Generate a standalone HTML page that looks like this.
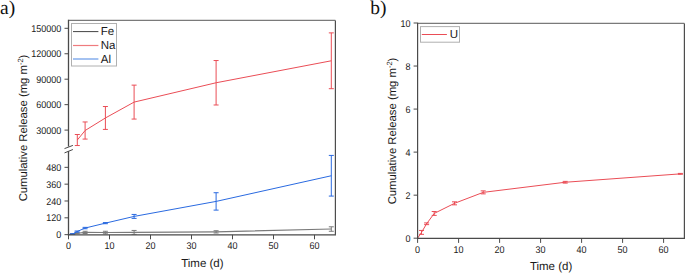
<!DOCTYPE html>
<html><head><meta charset="utf-8"><title>Cumulative Release</title>
<style>
html,body{margin:0;padding:0;background:#fff;}
body{width:685px;height:273px;overflow:hidden;font-family:"Liberation Sans",sans-serif;}
svg{display:block;}
text{text-rendering:geometricPrecision;}
</style></head><body>
<svg width="685" height="273" viewBox="0 0 685 273">
<rect width="685" height="273" fill="#fff"/>
<text x="0" y="13.8" font-family="Liberation Serif" font-size="19.5" fill="#111">a)</text>
<text x="370.3" y="14.3" font-family="Liberation Serif" font-size="19.5" fill="#111">b)</text>
<defs>
<clipPath id="cup"><rect x="68.5" y="20.4" width="266.9" height="127.1"/></clipPath>
<clipPath id="clo"><rect x="68.5" y="149.9" width="266.9" height="84.9"/></clipPath>
</defs>
<g clip-path="url(#clo)"><polyline points="68.50,234.65 72.60,234.09 77.11,233.25 85.10,232.41 105.40,232.55 134.10,232.41 216.10,231.84 331.31,229.04" fill="none" stroke="#7a7a7a" stroke-width="1.1" stroke-linejoin="round"/><path d="M72.60,233.81V234.37M70.10,233.81H75.10M70.10,234.37H75.10" stroke="#7a7a7a" stroke-width="1.0" fill="none"/><path d="M77.11,232.83V233.67M74.61,232.83H79.61M74.61,233.67H79.61" stroke="#7a7a7a" stroke-width="1.0" fill="none"/><path d="M85.10,231.28V233.53M82.60,231.28H87.60M82.60,233.53H87.60" stroke="#7a7a7a" stroke-width="1.0" fill="none"/><path d="M105.40,231.28V233.81M102.90,231.28H107.90M102.90,233.81H107.90" stroke="#7a7a7a" stroke-width="1.0" fill="none"/><path d="M134.10,230.44V234.37M131.60,230.44H136.60M131.60,234.37H136.60" stroke="#7a7a7a" stroke-width="1.0" fill="none"/><path d="M216.10,230.72V232.97M213.60,230.72H218.60M213.60,232.97H218.60" stroke="#7a7a7a" stroke-width="1.0" fill="none"/><path d="M331.31,226.80V231.28M328.81,226.80H333.81M328.81,231.28H333.81" stroke="#7a7a7a" stroke-width="1.0" fill="none"/><polyline points="68.50,234.65 72.60,234.09 77.11,231.56 85.10,228.06 105.40,223.15 134.10,216.42 216.10,201.41 331.31,175.75" fill="none" stroke="#2a6ae0" stroke-width="1.0" stroke-linejoin="round"/><path d="M72.60,233.81V234.37M70.10,233.81H75.10M70.10,234.37H75.10" stroke="#2a6ae0" stroke-width="1.0" fill="none"/><path d="M77.11,231.00V232.13M74.61,231.00H79.61M74.61,232.13H79.61" stroke="#2a6ae0" stroke-width="1.0" fill="none"/><path d="M85.10,227.36V228.76M82.60,227.36H87.60M82.60,228.76H87.60" stroke="#2a6ae0" stroke-width="1.0" fill="none"/><path d="M105.40,222.59V223.71M102.90,222.59H107.90M102.90,223.71H107.90" stroke="#2a6ae0" stroke-width="1.0" fill="none"/><path d="M134.10,214.45V218.38M131.60,214.45H136.60M131.60,218.38H136.60" stroke="#2a6ae0" stroke-width="1.0" fill="none"/><path d="M216.10,192.72V210.11M213.60,192.72H218.60M213.60,210.11H218.60" stroke="#2a6ae0" stroke-width="1.0" fill="none"/><path d="M331.31,155.41V196.08M328.81,155.41H333.81M328.81,196.08H333.81" stroke="#2a6ae0" stroke-width="1.0" fill="none"/></g>
<g clip-path="url(#cup)"><polyline points="77.31,140.03 85.10,130.52 105.40,117.97 134.10,102.10 216.10,82.76 331.31,60.79" fill="none" stroke="#ea4d56" stroke-width="1.0" stroke-linejoin="round"/><path d="M77.31,134.51V145.54M74.81,134.51H79.81M74.81,145.54H79.81" stroke="#ea4d56" stroke-width="1.0" fill="none"/><path d="M85.10,121.96V139.09M82.60,121.96H87.60M82.60,139.09H87.60" stroke="#ea4d56" stroke-width="1.0" fill="none"/><path d="M105.40,106.52V129.42M102.90,106.52H107.90M102.90,129.42H107.90" stroke="#ea4d56" stroke-width="1.0" fill="none"/><path d="M134.10,85.14V119.07M131.60,85.14H136.60M131.60,119.07H136.60" stroke="#ea4d56" stroke-width="1.0" fill="none"/><path d="M216.10,60.54V104.99M213.60,60.54H218.60M213.60,104.99H218.60" stroke="#ea4d56" stroke-width="1.0" fill="none"/><path d="M331.31,32.88V88.70M328.81,32.88H333.81M328.81,88.70H333.81" stroke="#ea4d56" stroke-width="1.0" fill="none"/></g>
<path d="M68.5,20.4H335.4" stroke="#7a7a7a" stroke-width="1.3" fill="none"/>
<path d="M335.4,20.4V234.8" stroke="#4d4d4d" stroke-width="1.2" fill="none"/>
<path d="M68.5,19.799999999999997V146.5M68.5,150.9V235.4" stroke="#4a4a4a" stroke-width="1.3" fill="none"/>
<path d="M67.9,234.8H336.0" stroke="#4a4a4a" stroke-width="1.3" fill="none"/>
<path d="M64.5,148.6L72.9,145.4M64.5,152.9L72.9,149.5" stroke="#4a4a4a" stroke-width="1.0" fill="none"/>
<path d="M64.5,130.10H68.5" stroke="#4a4a4a" stroke-width="1"/>
<text x="61.30" y="133.71" text-anchor="end" font-family="Liberation Sans" font-size="9.8" textLength="25.06" lengthAdjust="spacingAndGlyphs" fill="#1a1a1a">30000</text>
<path d="M64.5,104.65H68.5" stroke="#4a4a4a" stroke-width="1"/>
<text x="61.30" y="108.26" text-anchor="end" font-family="Liberation Sans" font-size="9.8" textLength="25.06" lengthAdjust="spacingAndGlyphs" fill="#1a1a1a">60000</text>
<path d="M64.5,79.20H68.5" stroke="#4a4a4a" stroke-width="1"/>
<text x="61.30" y="82.81" text-anchor="end" font-family="Liberation Sans" font-size="9.8" textLength="25.06" lengthAdjust="spacingAndGlyphs" fill="#1a1a1a">90000</text>
<path d="M64.5,53.75H68.5" stroke="#4a4a4a" stroke-width="1"/>
<text x="61.30" y="57.36" text-anchor="end" font-family="Liberation Sans" font-size="9.8" textLength="30.08" lengthAdjust="spacingAndGlyphs" fill="#1a1a1a">120000</text>
<path d="M64.5,28.30H68.5" stroke="#4a4a4a" stroke-width="1"/>
<text x="61.30" y="31.91" text-anchor="end" font-family="Liberation Sans" font-size="9.8" textLength="30.08" lengthAdjust="spacingAndGlyphs" fill="#1a1a1a">150000</text>
<path d="M64.5,234.65H68.5" stroke="#4a4a4a" stroke-width="1"/>
<text x="61.30" y="238.26" text-anchor="end" font-family="Liberation Sans" font-size="9.8" textLength="5.01" lengthAdjust="spacingAndGlyphs" fill="#1a1a1a">0</text>
<path d="M64.5,217.82H68.5" stroke="#4a4a4a" stroke-width="1"/>
<text x="61.30" y="221.43" text-anchor="end" font-family="Liberation Sans" font-size="9.8" textLength="15.04" lengthAdjust="spacingAndGlyphs" fill="#1a1a1a">120</text>
<path d="M64.5,200.99H68.5" stroke="#4a4a4a" stroke-width="1"/>
<text x="61.30" y="204.60" text-anchor="end" font-family="Liberation Sans" font-size="9.8" textLength="15.04" lengthAdjust="spacingAndGlyphs" fill="#1a1a1a">240</text>
<path d="M64.5,184.16H68.5" stroke="#4a4a4a" stroke-width="1"/>
<text x="61.30" y="187.77" text-anchor="end" font-family="Liberation Sans" font-size="9.8" textLength="15.04" lengthAdjust="spacingAndGlyphs" fill="#1a1a1a">360</text>
<path d="M64.5,167.33H68.5" stroke="#4a4a4a" stroke-width="1"/>
<text x="61.30" y="170.94" text-anchor="end" font-family="Liberation Sans" font-size="9.8" textLength="15.04" lengthAdjust="spacingAndGlyphs" fill="#1a1a1a">480</text>
<path d="M68.50,234.8V239.3" stroke="#4a4a4a" stroke-width="1"/>
<text x="68.50" y="249.41" text-anchor="middle" font-family="Liberation Sans" font-size="9.8" textLength="5.01" lengthAdjust="spacingAndGlyphs" fill="#1a1a1a">0</text>
<path d="M109.50,234.8V239.3" stroke="#4a4a4a" stroke-width="1"/>
<text x="109.50" y="249.41" text-anchor="middle" font-family="Liberation Sans" font-size="9.8" textLength="10.03" lengthAdjust="spacingAndGlyphs" fill="#1a1a1a">10</text>
<path d="M150.50,234.8V239.3" stroke="#4a4a4a" stroke-width="1"/>
<text x="150.50" y="249.41" text-anchor="middle" font-family="Liberation Sans" font-size="9.8" textLength="10.03" lengthAdjust="spacingAndGlyphs" fill="#1a1a1a">20</text>
<path d="M191.50,234.8V239.3" stroke="#4a4a4a" stroke-width="1"/>
<text x="191.50" y="249.41" text-anchor="middle" font-family="Liberation Sans" font-size="9.8" textLength="10.03" lengthAdjust="spacingAndGlyphs" fill="#1a1a1a">30</text>
<path d="M232.50,234.8V239.3" stroke="#4a4a4a" stroke-width="1"/>
<text x="232.50" y="249.41" text-anchor="middle" font-family="Liberation Sans" font-size="9.8" textLength="10.03" lengthAdjust="spacingAndGlyphs" fill="#1a1a1a">40</text>
<path d="M273.50,234.8V239.3" stroke="#4a4a4a" stroke-width="1"/>
<text x="273.50" y="249.41" text-anchor="middle" font-family="Liberation Sans" font-size="9.8" textLength="10.03" lengthAdjust="spacingAndGlyphs" fill="#1a1a1a">50</text>
<path d="M314.50,234.8V239.3" stroke="#4a4a4a" stroke-width="1"/>
<text x="314.50" y="249.41" text-anchor="middle" font-family="Liberation Sans" font-size="9.8" textLength="10.03" lengthAdjust="spacingAndGlyphs" fill="#1a1a1a">60</text>
<text x="202.4" y="266.7" text-anchor="middle" font-family="Liberation Sans" font-size="11.5" fill="#1a1a1a">Time (d)</text>
<text transform="translate(27.2,128.0) rotate(-90)" text-anchor="middle" font-family="Liberation Sans" font-size="11.3" fill="#1a1a1a">Cumulative Release (mg m<tspan font-size="7.5" dy="-4">-2</tspan><tspan dy="4">)</tspan></text>
<rect x="71.5" y="23.5" width="45" height="42.5" fill="#fff" stroke="#b0b0b0" stroke-width="1"/>
<path d="M73,31.6H98.4" stroke="#444" stroke-width="1"/>
<path d="M73,45.5H98.4" stroke="#ef7b7e" stroke-width="1.2"/>
<path d="M73,59H98.4" stroke="#8db3ee" stroke-width="1.6"/>
<text x="100.8" y="35.2" font-family="Liberation Sans" font-size="11.5" fill="#1a1a1a">Fe</text>
<text x="100.8" y="49.1" font-family="Liberation Sans" font-size="11.5" fill="#1a1a1a">Na</text>
<text x="100.8" y="62.6" font-family="Liberation Sans" font-size="11.5" fill="#1a1a1a">Al</text>
<defs><clipPath id="cb"><rect x="417.6" y="23.4" width="266.79999999999995" height="215.0"/></clipPath></defs>
<g clip-path="url(#cb)"><polyline points="417.60,238.20 421.50,232.39 426.62,223.78 434.21,213.45 454.50,203.34 483.20,192.36 565.20,182.25 680.41,173.86" fill="none" stroke="#ea4d56" stroke-width="1.0" stroke-linejoin="round"/><path d="M421.50,230.45V234.33M419.00,230.45H424.00M419.00,234.33H424.00" stroke="#ea4d56" stroke-width="1.0" fill="none"/><path d="M426.62,222.92V224.64M424.12,222.92H429.12M424.12,224.64H429.12" stroke="#ea4d56" stroke-width="1.0" fill="none"/><path d="M434.21,211.52V215.39M431.71,211.52H436.71M431.71,215.39H436.71" stroke="#ea4d56" stroke-width="1.0" fill="none"/><path d="M454.50,201.83V204.84M452.00,201.83H457.00M452.00,204.84H457.00" stroke="#ea4d56" stroke-width="1.0" fill="none"/><path d="M483.20,190.86V193.87M480.70,190.86H485.70M480.70,193.87H485.70" stroke="#ea4d56" stroke-width="1.0" fill="none"/><path d="M565.20,181.39V183.11M562.70,181.39H567.70M562.70,183.11H567.70" stroke="#ea4d56" stroke-width="1.0" fill="none"/><path d="M680.41,173.42V174.29M677.91,173.42H682.91M677.91,174.29H682.91" stroke="#ea4d56" stroke-width="1.0" fill="none"/></g>
<path d="M417.6,23.4H684.4" stroke="#7a7a7a" stroke-width="1.3" fill="none"/>
<path d="M684.4,23.4V238.4" stroke="#4d4d4d" stroke-width="1.2" fill="none"/>
<path d="M417.6,22.799999999999997V239.0" stroke="#4a4a4a" stroke-width="1.2" fill="none"/>
<path d="M417.0,238.4H685.0" stroke="#4a4a4a" stroke-width="1.3" fill="none"/>
<path d="M413.6,238.20H417.6" stroke="#4a4a4a" stroke-width="1"/>
<text x="410.50" y="241.81" text-anchor="end" font-family="Liberation Sans" font-size="9.8" textLength="5.01" lengthAdjust="spacingAndGlyphs" fill="#1a1a1a">0</text>
<path d="M413.6,195.16H417.6" stroke="#4a4a4a" stroke-width="1"/>
<text x="410.50" y="198.77" text-anchor="end" font-family="Liberation Sans" font-size="9.8" textLength="5.01" lengthAdjust="spacingAndGlyphs" fill="#1a1a1a">2</text>
<path d="M413.6,152.12H417.6" stroke="#4a4a4a" stroke-width="1"/>
<text x="410.50" y="155.73" text-anchor="end" font-family="Liberation Sans" font-size="9.8" textLength="5.01" lengthAdjust="spacingAndGlyphs" fill="#1a1a1a">4</text>
<path d="M413.6,109.08H417.6" stroke="#4a4a4a" stroke-width="1"/>
<text x="410.50" y="112.69" text-anchor="end" font-family="Liberation Sans" font-size="9.8" textLength="5.01" lengthAdjust="spacingAndGlyphs" fill="#1a1a1a">6</text>
<path d="M413.6,66.04H417.6" stroke="#4a4a4a" stroke-width="1"/>
<text x="410.50" y="69.65" text-anchor="end" font-family="Liberation Sans" font-size="9.8" textLength="5.01" lengthAdjust="spacingAndGlyphs" fill="#1a1a1a">8</text>
<path d="M413.6,23.00H417.6" stroke="#4a4a4a" stroke-width="1"/>
<text x="410.50" y="26.61" text-anchor="end" font-family="Liberation Sans" font-size="9.8" textLength="10.03" lengthAdjust="spacingAndGlyphs" fill="#1a1a1a">10</text>
<path d="M417.60,238.4V242.9" stroke="#4a4a4a" stroke-width="1"/>
<text x="417.60" y="253.21" text-anchor="middle" font-family="Liberation Sans" font-size="9.8" textLength="5.01" lengthAdjust="spacingAndGlyphs" fill="#1a1a1a">0</text>
<path d="M458.60,238.4V242.9" stroke="#4a4a4a" stroke-width="1"/>
<text x="458.60" y="253.21" text-anchor="middle" font-family="Liberation Sans" font-size="9.8" textLength="10.03" lengthAdjust="spacingAndGlyphs" fill="#1a1a1a">10</text>
<path d="M499.60,238.4V242.9" stroke="#4a4a4a" stroke-width="1"/>
<text x="499.60" y="253.21" text-anchor="middle" font-family="Liberation Sans" font-size="9.8" textLength="10.03" lengthAdjust="spacingAndGlyphs" fill="#1a1a1a">20</text>
<path d="M540.60,238.4V242.9" stroke="#4a4a4a" stroke-width="1"/>
<text x="540.60" y="253.21" text-anchor="middle" font-family="Liberation Sans" font-size="9.8" textLength="10.03" lengthAdjust="spacingAndGlyphs" fill="#1a1a1a">30</text>
<path d="M581.60,238.4V242.9" stroke="#4a4a4a" stroke-width="1"/>
<text x="581.60" y="253.21" text-anchor="middle" font-family="Liberation Sans" font-size="9.8" textLength="10.03" lengthAdjust="spacingAndGlyphs" fill="#1a1a1a">40</text>
<path d="M622.60,238.4V242.9" stroke="#4a4a4a" stroke-width="1"/>
<text x="622.60" y="253.21" text-anchor="middle" font-family="Liberation Sans" font-size="9.8" textLength="10.03" lengthAdjust="spacingAndGlyphs" fill="#1a1a1a">50</text>
<path d="M663.60,238.4V242.9" stroke="#4a4a4a" stroke-width="1"/>
<text x="663.60" y="253.21" text-anchor="middle" font-family="Liberation Sans" font-size="9.8" textLength="10.03" lengthAdjust="spacingAndGlyphs" fill="#1a1a1a">60</text>
<text x="551.1" y="270" text-anchor="middle" font-family="Liberation Sans" font-size="11.5" fill="#1a1a1a">Time (d)</text>
<text transform="translate(396.2,131) rotate(-90)" text-anchor="middle" font-family="Liberation Sans" font-size="11.3" fill="#1a1a1a">Cumulative Release (mg m<tspan font-size="7.5" dy="-4">-2</tspan><tspan dy="4">)</tspan></text>
<rect x="420.5" y="26.6" width="39" height="15.6" fill="#fff" stroke="#b0b0b0" stroke-width="1"/>
<path d="M421.8,34.5H446.9" stroke="#ea4d56" stroke-width="1"/>
<text x="449.8" y="38.1" font-family="Liberation Sans" font-size="11.5" fill="#1a1a1a">U</text>
</svg>
</body></html>
